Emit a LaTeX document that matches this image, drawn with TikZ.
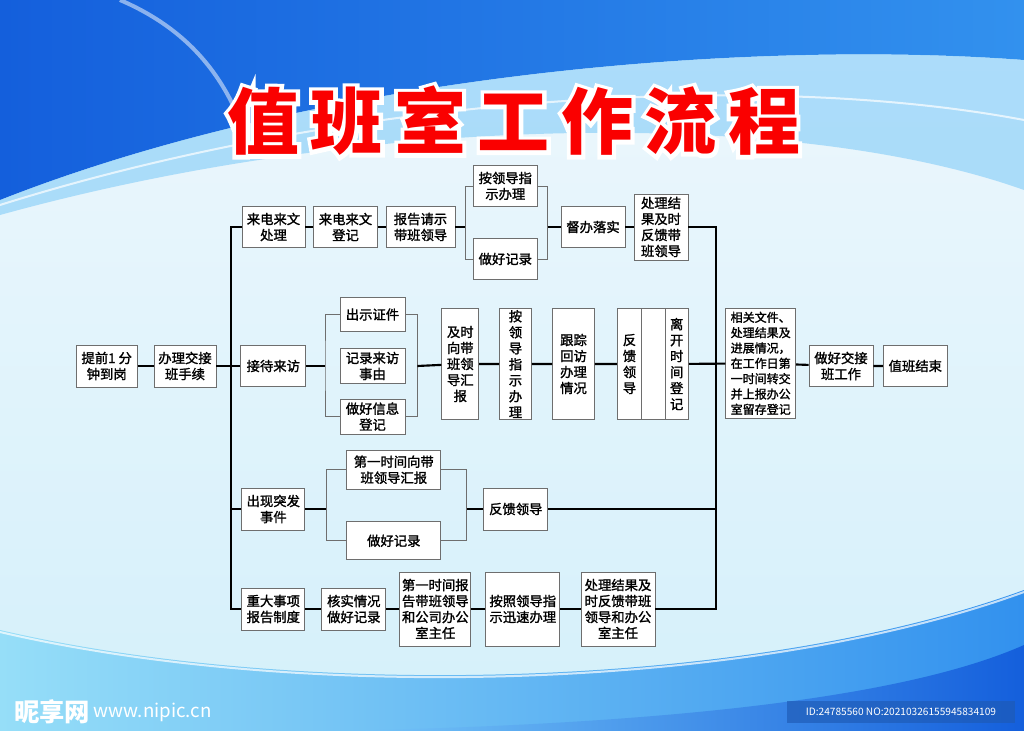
\documentclass[tikz,border=0pt]{standalone}
\usepackage{fontspec}
\setmainfont{Noto Sans CJK SC}
\newfontfamily\titleedge[BoldFeatures={FakeBold=11}]{Noto Sans CJK SC}
\newfontfamily\boxfont[FakeBold=1.5]{Noto Sans CJK SC}
\usetikzlibrary{positioning,calc}

\definecolor{boxline}{RGB}{110,110,110}
\definecolor{titlered}{RGB}{250,0,0}
\definecolor{bgtop}{RGB}{238,247,253}
\definecolor{bgbot}{RGB}{212,240,250}
\definecolor{bluedeep}{RGB}{20,95,220}
\definecolor{bluemid}{RGB}{50,145,238}
\definecolor{bluelight}{RGB}{120,200,248}
\definecolor{cyanlight}{RGB}{150,222,248}
\definecolor{idback}{RGB}{30,90,180}

\newcommand\titletext{值\kern8.6pt 班\kern8.6pt 室\kern8.6pt 工\kern8.6pt 作\kern8.6pt 流\kern8.6pt 程}

\tikzset{
  box/.style={draw=boxline, line width=0.6pt, fill=white, align=center, inner sep=0pt,
    font=\boxfont\fontsize{10}{12}\selectfont},
  small/.style={font=\boxfont\fontsize{9}{11.5}\selectfont},
  sz/.style 2 args={minimum width=#1*0.75pt, minimum height=#2*0.75pt},
  wire/.style={line width=1.6pt, black},
  brace/.style={draw=boxline, line width=0.7pt},
  titletxt/.style={inner sep=0pt, anchor=west},
}

\begin{document}
\begin{tikzpicture}[x=0.75pt,y=-0.75pt]
  \useasboundingbox (0,0) rectangle (1024,731);
  % background
  \shade[top color=bgtop, bottom color=bgbot] (0,0) rectangle (1024,731);
  \shade[left color=bluedeep, right color=bluemid] (0,0) -- (1024,0) -- (1024,60)
    .. controls (760,40) and (330,70) .. (0,200) -- cycle;
  \fill[bluelight, opacity=0.55] (0,200) .. controls (330,70) and (760,40) .. (1024,60)
    -- (1024,190) .. controls (800,110) and (380,110) .. (0,215) -- cycle;
  \draw[white, opacity=0.5, line width=3pt] (120,0) .. controls (190,30) and (230,80) .. (250,150);
  \draw[white, opacity=0.7, line width=1.5pt] (0,205) .. controls (350,95) and (760,70) .. (1024,120);
  \shade[left color=cyanlight, right color=bluemid] (0,630) .. controls (300,700) and (750,690)
    .. (1024,590) -- (1024,731) -- (0,731) -- cycle;
  \shade[left color=bluelight, right color=bluedeep] (330,731) .. controls (650,725) and (900,700)
    .. (1024,645) -- (1024,731) -- cycle;
  \draw[white, opacity=0.7, line width=1.5pt] (0,632) .. controls (300,702) and (750,692) .. (1024,592);

  % title
  \node[titletxt, text=white, font=\titleedge\fontsize{54}{54}\selectfont\bfseries] (titlebg) at (227,121) {\titletext};
  \node[titletxt, text=titlered, font=\fontsize{54}{54}\selectfont\bfseries] (title) at (227,121) {\titletext};

  % row 1
  \node[box, sz={63}{41}] (lai1) at (273.5,227) {来电来文\\处理};
  \node[box, sz={64}{41}] (lai2) at (345.5,227) {来电来文\\登记};
  \node[box, sz={69}{41}] (bao) at (420.5,227) {报告请示\\带班领导};
  \node[box, sz={64}{41}] (anl) at (505.3,186) {按领导指\\示办理};
  \node[box, sz={64}{41}] (jl1) at (505.3,259) {做好记录};
  \node[box, sz={64}{41}] (duban) at (593,227) {督办落实};
  \node[box, sz={54}{66}] (fk1) at (661,227) {处理结\\果及时\\反馈带\\班领导};

  % row 2
  \node[box, sz={61}{42}] (tq) at (106.7,366) {提前1 分\\钟到岗};
  \node[box, sz={62}{42}] (bl) at (185,366) {办理交接\\班手续};
  \node[box, sz={65}{41}] (jd) at (273.3,366) {接待来访};
  \node[box, sz={65}{34}] (cs) at (372.5,314.5) {出示证件};
  \node[box, sz={65}{35}] (jl2) at (372.5,366) {记录来访\\事由};
  \node[box, sz={65}{35}] (xx) at (372.5,416.5) {做好信息\\登记};
  \node[box, sz={37}{111}] (js) at (460.3,364) {及时\\向带\\班领\\导汇\\报};
  \node[box, sz={32}{111}] (anl2) at (515.5,364) {按\\领\\导\\指\\示\\办\\理};
  \node[box, sz={42}{111}] (gz) at (573.5,364) {跟踪\\回访\\办理\\情况};
  \node[box, sz={24.4}{111}] (fk2) at (629.5,364) {反\\馈\\领\\导};
  \node[box, sz={23.3}{111}] (kong) at (653.3,364) {};
  \node[box, sz={23.3}{111}] (lk) at (676.7,364) {离\\开\\时\\间\\登\\记};
  \node[box, small, sz={70}{110}] (xg) at (760.7,363.3)
    {相关文件、\\处理结果及\\进展情况，\\在工作日第\\一时间转交\\并上报办公\\室留存登记};
  \node[box, sz={64}{41}] (zj) at (841,366) {做好交接\\班工作};
  \node[box, sz={64}{41}] (jieshu) at (915.3,366) {值班结束};

  % row 3
  \node[box, sz={63}{42}] (tf) at (273.3,509) {出现突发\\事件};
  \node[box, sz={94}{39}] (dyh) at (393.8,469.7) {第一时间向带\\班领导汇报};
  \node[box, sz={94}{38}] (jl3) at (393.8,540.8) {做好记录};
  \node[box, sz={64}{42}] (fk3) at (515.8,509) {反馈领导};

  % row 4
  \node[box, sz={63}{42}] (zd) at (273.3,609) {重大事项\\报告制度};
  \node[box, sz={64}{42}] (hs) at (353.8,609) {核实情况\\做好记录};
  \node[box, sz={71}{74}] (dyb) at (435.3,609) {第一时间报\\告带班领导\\和公司办公\\室主任};
  \node[box, sz={74}{74}] (az) at (522.8,609) {按照领导指\\示迅速办理};
  \node[box, sz={74}{74}] (cl) at (618,609) {处理结果及\\时反馈带班\\领导和办公\\室主任};

  % buses
  \coordinate (busl1) at (231,227);
  \coordinate (busl4) at (231,609);
  \coordinate (busr1) at (716,227);
  \coordinate (busr4) at (716,609);
  \draw[wire] (lai1) -- (busl1) -- (busl4) -- (zd);
  \draw[wire] (tf) -- (tf -| busl1);
  \draw[wire] (fk1) -- (busr1) -- (busr4) -- (cl);
  \draw[wire] (fk3) -- (fk3 -| busr1);

  % connectors
  \draw[wire] (tq) -- (bl) -- (jd);
  \draw[wire] (lai1) -- (lai2) -- (bao);
  \coordinate (s1l) at (465.7,227);
  \coordinate (s1r) at (547.7,227);
  \draw[wire] (bao) -- (s1l);
  \draw[brace] (anl) -| (s1l) |- (jl1);
  \draw[brace] (anl) -| (s1r) |- (jl1);
  \draw[wire] (s1r) -- (duban) -- (fk1);

  \coordinate (s2l) at (325,366);
  \coordinate (s2r) at (417.3,366);
  \draw[wire] (jd) -- (s2l);
  \draw[brace] (cs) -| (s2l) |- (xx);
  \draw[brace] (cs) -| (s2r) |- (xx);
  \draw[wire] (s2r) -- (js) -- (anl2) -- (gz) -- (fk2);
  \draw[wire] (lk) -- (xg) -- (zj) -- (jieshu);

  \coordinate (s3l) at (326.7,509);
  \coordinate (s3r) at (466.7,509);
  \draw[wire] (tf) -- (s3l);
  \draw[brace] (dyh) -| (s3l) |- (jl3);
  \draw[brace] (dyh) -| (s3r) |- (jl3);
  \draw[wire] (s3r) -- (fk3);

  \draw[wire] (zd) -- (hs) -- (dyb) -- (az) -- (cl);

  % watermark
  \node[anchor=west, text=white, inner sep=0pt, font=\fontsize{19}{19}\selectfont\bfseries] (wm1) at (14,712) {昵享网};
  \node[anchor=west, text=white, inner sep=0pt, font=\fontsize{14}{14}\selectfont] (wm2) at (wm1.east) {\,www.nipic.cn};
  \fill[idback, opacity=0.65] (787,701) rectangle (1015,723);
  \node[text=white, inner sep=0pt, font=\fontsize{7.6}{8}\selectfont] (idtxt) at (901,712) {ID:24785560 NO:20210326155945834109};
\end{tikzpicture}
\end{document}
